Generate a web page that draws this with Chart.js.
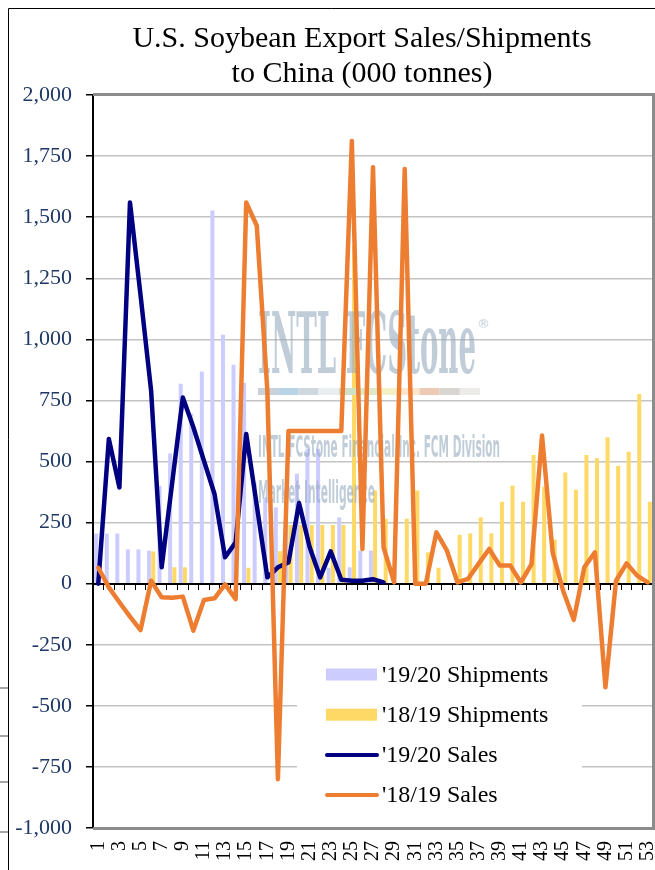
<!DOCTYPE html>
<html>
<head>
<meta charset="utf-8">
<script src="https://cdn.jsdelivr.net/npm/chart.js@4.4.0/dist/chart.umd.min.js"></script>
<style>
  html, body { margin: 0; padding: 0; background: #fff; }
  #wrap { position: relative; width: 655px; height: 870px; overflow: hidden; }
</style>
</head>
<body>
<div id="wrap"><canvas id="myChart" width="655" height="870"></canvas></div>
<script>
// weekly data, marketing year weeks 1..53 (000 tonnes)
var weeks = ['1','2','3','4','5','6','7','8','9','10','11','12','13','14','15','16','17','18','19','20',
  '21','22','23','24','25','26','27','28','29','30','31','32','33','34','35','36','37','38','39','40',
  '41','42','43','44','45','46','47','48','49','50','51','52','53'];

var seriesNames = ["'19/20 Shipments", "'18/19 Shipments", "'19/20 Sales", "'18/19 Sales"];

var shipments1920 = [205, 205, 205, 140, 140, 135, 400, 533, 818, 695, 868, 1527, 1019, 896, 822, 415, 353, 312, 250, 450,
  552, 552, 65, 271, 67, 135, 135, null, null, null, null, null, null, null, null, null, null, null, null, null,
  null, null, null, null, null, null, null, null, null, null, null, null, null];

var shipments1819 = [0, 0, 0, 0, 0, 132, 0, 67, 67, 0, 0, 0, 0, 0, 65, 0, 0, 133, 240, 240,
  240, 240, 240, 240, 1383, 0, 381, 266, 0, 266, 381, 128, 65, 0, 200, 206, 271, 206, 335, 401,
  335, 527, 397, 180, 455, 384, 527, 514, 599, 482, 540, 776, 335];

var sales1920 = [0, 592, 394, 1560, 1180, 790, 67, 415, 762, 640, 503, 367, 108, 169, 613, 320, 26, 67, 87, 330,
  150, 26, 132, 16, 12, 12, 18, 5, null, null, null, null, null, null, null, null, null, null, null, null,
  null, null, null, null, null, null, null, null, null, null, null, null, null];

var sales1819 = [65, -15, -76, -135, -190, 12, -56, -58, -53, -192, -67, -60, -3, -63, 1560, 1465, 790, -800, 625, 625,
  625, 625, 625, 625, 1812, 142, 1704, 149, 5, 1697, 0, 0, 210, 135, 5, 20, 82, 142, 74, 74,
  5, 80, 606, 128, -30, -148, 67, 128, -424, 12, 83, 33, 5];

var yTickValues = [-1000, -750, -500, -250, 0, 250, 500, 750, 1000, 1250, 1500, 1750, 2000];

var serif = '"Liberation Serif", "Times New Roman", serif';

// title, frame and left-edge bits
var framePlugin = {
  id: 'framePlugin',
  beforeDraw: function(chart) {
    var ctx = chart.ctx;
    ctx.save();
    ctx.fillStyle = '#fff';
    ctx.fillRect(0, 0, chart.width, chart.height);
    ctx.restore();
  },
  afterDatasetsDraw: function(chart) {
    var ctx = chart.ctx, a = chart.chartArea;
    ctx.save();
    // plot area border (grey)
    ctx.strokeStyle = '#8c8c8c';
    ctx.lineWidth = 3;
    ctx.beginPath();
    ctx.moveTo(a.left, a.top - 0.5);
    ctx.lineTo(a.right + 0.5, a.top - 0.5);
    ctx.lineTo(a.right + 0.5, a.bottom + 0.5);
    ctx.lineTo(a.left, a.bottom + 0.5);
    ctx.stroke();
    // outer chart frame
    ctx.strokeStyle = '#000';
    ctx.lineWidth = 1;
    ctx.beginPath();
    ctx.moveTo(8.5, chart.height);
    ctx.lineTo(8.5, 8.5);
    ctx.lineTo(chart.width, 8.5);
    ctx.stroke();
    // bits of a neighbouring chart at the left edge
    ctx.strokeStyle = '#a6a6a6';
    ctx.lineWidth = 2;
    [688, 736, 782, 832].forEach(function(y) {
      ctx.beginPath(); ctx.moveTo(0, y); ctx.lineTo(8, y); ctx.stroke();
    });
    // title
    ctx.fillStyle = '#000';
    ctx.font = '30px ' + serif;
    ctx.textAlign = 'center';
    ctx.textBaseline = 'alphabetic';
    ctx.fillText('U.S. Soybean Export Sales/Shipments', 362, 47);
    ctx.fillText('to China (000 tonnes)', 362, 82);
    ctx.restore();
  }
};

// faint company watermark, drawn above the bars but under the lines
var watermark = {
  id: 'watermark',
  afterDatasetDraw: function(chart, args) {
    if (args.index !== 0) return;
    var ctx = chart.ctx, a = chart.chartArea;
    var x0 = a.left + 165;
    ctx.save();
    ctx.fillStyle = 'rgba(150,172,192,0.6)';
    ctx.textAlign = 'left';
    ctx.textBaseline = 'alphabetic';
    ctx.font = 'bold 84px "DejaVu Serif"';
    ctx.fillText('INTL FCStone', x0, 373, 218);
    ctx.font = '13px "DejaVu Sans"';
    ctx.fillText('\u00AE', x0 + 219, 328);
    var strip = ['#c9d2da', '#b9d3e6', '#cfd8df', '#e9eef0', '#cfe0c6', '#dfe9c8', '#f4f1c9', '#fde6cd', '#eccab6', '#d9d5d1', '#ecebe8'];
    var sw = 222 / strip.length;
    strip.forEach(function(c, i) {
      ctx.fillStyle = c;
      ctx.fillRect(x0 + i * sw, 388, sw, 7);
    });
    ctx.fillStyle = 'rgba(150,172,192,0.6)';
    ctx.font = 'bold 30px "DejaVu Sans"';
    ctx.fillText('INTL FCStone Financial Inc. FCM Division', x0, 457, 242);
    ctx.font = 'bold 32px "DejaVu Sans"';
    ctx.fillText('Market Intelligence', x0, 503, 117);
    ctx.restore();
  }
};

// legend sitting inside the plot area
var legendBox = {
  id: 'legendBox',
  beforeDatasetsDraw: function(chart) {
    var ctx = chart.ctx;
    var bx = 297, by = 650, bw = 285, bh = 168;
    ctx.save();
    ctx.fillStyle = '#fff';
    ctx.fillRect(bx, by, bw, bh);
    ctx.font = '24px ' + serif;
    ctx.textAlign = 'left';
    ctx.textBaseline = 'middle';
    chart.data.datasets.forEach(function(ds, i) {
      var y = by + 24.5 + i * 40.2;
      if (ds.type === 'bar') {
        ctx.fillStyle = ds.backgroundColor;
        ctx.fillRect(326, y - 6, 51, 12);
      } else {
        ctx.strokeStyle = ds.borderColor;
        ctx.lineWidth = 4;
        ctx.lineCap = 'round';
        ctx.beginPath(); ctx.moveTo(327, y); ctx.lineTo(377, y); ctx.stroke();
      }
      ctx.fillStyle = '#000';
      ctx.fillText(ds.label, 382, y + 1);
    });
    ctx.restore();
  }
};

function soyChart() {
  var ctx = document.getElementById('myChart').getContext('2d');
  var myChart = new Chart(ctx, {
    type: 'bar',
    data: {
      labels: weeks,
      datasets: [{
        type: 'bar',
        label: seriesNames[0],
        data: shipments1920,
        backgroundColor: '#CCCCFF',
        categoryPercentage: 0.8,
        barPercentage: 0.95,
        xAxisID: 'x',
        order: 2
      }, {
        type: 'bar',
        label: seriesNames[1],
        data: shipments1819,
        backgroundColor: '#FFD966',
        categoryPercentage: 0.8,
        barPercentage: 0.95,
        xAxisID: 'x',
        order: 2
      }, {
        type: 'line',
        label: seriesNames[2],
        data: sales1920,
        borderColor: '#000080',
        borderWidth: 4.5,
        pointRadius: 0,
        tension: 0,
        fill: false,
        borderJoinStyle: 'round',
        borderCapStyle: 'round',
        xAxisID: 'x',
        order: 1
      }, {
        type: 'line',
        label: seriesNames[3],
        data: sales1819,
        borderColor: '#ED7D31',
        borderWidth: 4.5,
        pointRadius: 0,
        tension: 0,
        fill: false,
        borderJoinStyle: 'round',
        borderCapStyle: 'round',
        xAxisID: 'x',
        order: 0
      }]
    },
    options: {
      responsive: false,
      animation: false,
      devicePixelRatio: 1,
      layout: { padding: { top: 95, right: 2, left: 0, bottom: 0 } },
      plugins: {
        legend: { display: false },
        tooltip: { enabled: false },
        title: { display: false }
      },
      scales: {
        y: {
          position: 'left',
          min: -1000,
          max: 2000,
          afterBuildTicks: function(scale) {
            scale.ticks = yTickValues.map(function(v) { return { value: v }; });
          },
          afterFit: function(scale) { scale.width = 93; },
          ticks: {
            padding: 14,
            color: '#1F3864',
            font: { family: serif, size: 22 },
            callback: function(v) { return Number(v).toLocaleString('en-US'); }
          },
          grid: { color: '#c3c3c3', lineWidth: 1.5, tickColor: '#000', tickLength: 7 },
          border: { color: '#000', width: 2 }
        },
        x: {
          type: 'category',
          position: { y: 0 },
          offset: true,
          ticks: { display: false },
          grid: { drawOnChartArea: false, drawTicks: true, tickLength: 5, tickColor: '#000', offset: true, lineWidth: 1 },
          border: { color: '#000', width: 2 }
        },
        xl: {
          type: 'category',
          position: 'bottom',
          offset: true,
          afterFit: function(scale) {
            scale.height = 42;
            scale.paddingLeft = 0;
            scale.paddingRight = 0;
          },
          ticks: {
            autoSkip: false,
            maxRotation: 90,
            minRotation: 90,
            padding: 5,
            color: '#000',
            font: { family: serif, size: 20 },
            callback: function(v, i) { return i % 2 === 0 ? weeks[i] : ''; }
          },
          grid: { display: false },
          border: { display: false }
        }
      }
    },
    plugins: [framePlugin, watermark, legendBox]
  });
}

soyChart();
</script>
</body>
</html>
